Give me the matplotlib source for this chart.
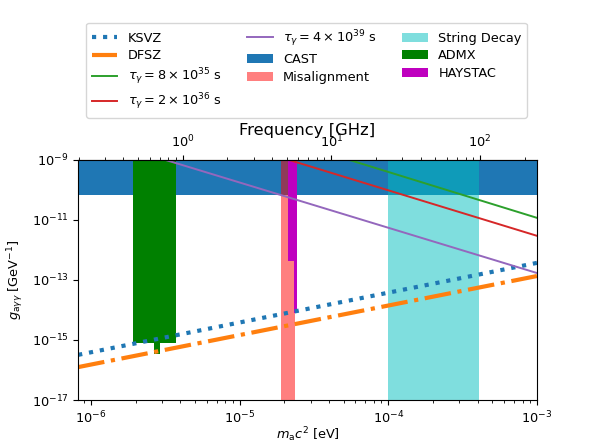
import numpy as np
import matplotlib.pyplot as plt
from matplotlib.ticker import LogLocator, NullLocator

plt.rcParams['font.size'] = 9.25

# axion mass range shown [eV]
m_lo, m_hi = 8.2e-7, 1e-3
g_lo, g_hi = 1e-17, 1e-9

# QCD axion bands (endpoints of straight lines in log-log)
ksvz_m = [8.2e-7, 1e-3]
ksvz_g = [3.2e-16, 3.7e-13]
dfsz_m = [8.2e-7, 1e-3]
dfsz_g = [1.25e-16, 1.35e-13]

# photon-decay lifetime contours
tau_labels = [r'$\tau_{\gamma} = 8 \times 10^{35}$ s',
              r'$\tau_{\gamma} = 2 \times 10^{36}$ s',
              r'$\tau_{\gamma} = 4 \times 10^{39}$ s']
tau_m = [[5.45e-5, 1e-3], [2.14e-5, 1e-3], [3.16e-6, 1e-3]]
tau_g = [[1e-9, 1.17e-11], [1e-9, 2.95e-12], [1e-9, 1.7e-13]]
tau_colors = ['C2', 'C3', 'C4']

# exclusion / target regions
cast_g = 6.6e-11
misalign_m = [1.89e-5, 2.34e-5]
string_m = [1e-4, 4.05e-4]
admx_m = [1.91e-6, 2.67e-6, 2.92e-6, 3.75e-6]
admx_g = [8.1e-16, 3.4e-16, 8.1e-16, 8.1e-16]
haystac_m = [2.1e-5, 2.33e-5, 2.45e-5]
haystac_g = [4.4e-13, 8e-15, 8e-15]

EV_TO_GHZ = 2.418e5


def ev2ghz(m):
    return m * EV_TO_GHZ


def ghz2ev(f):
    return f / EV_TO_GHZ


fig = plt.figure(figsize=(5.92, 4.44), dpi=100)
ax = fig.add_axes([0.132, 0.099, 0.775, 0.541])

ax.fill_between([m_lo, m_hi], cast_g, g_hi, color='C0', lw=0, label='CAST')
ax.fill_between(misalign_m, g_lo, g_hi, color='red', alpha=0.5, lw=0,
                label='Misalignment')
ax.fill_between(string_m, g_lo, g_hi, color='c', alpha=0.5, lw=0,
                label='String Decay')
ax.fill_between(admx_m, admx_g, g_hi, step='post', color='g', lw=0,
                label='ADMX')
ax.fill_between(haystac_m, haystac_g, g_hi, step='post', color='m', lw=0,
                label='HAYSTAC')

ax.plot(ksvz_m, ksvz_g, ':', color='C0', lw=3, label='KSVZ')
ax.plot(dfsz_m, dfsz_g, '-.', color='C1', lw=3, label='DFSZ')
for m, g, c, lab in zip(tau_m, tau_g, tau_colors, tau_labels):
    ax.plot(m, g, '-', color=c, lw=1.4, label=lab)

ax.set_xscale('log')
ax.set_yscale('log')
ax.set_xlim(m_lo, m_hi)
ax.set_ylim(g_lo, g_hi)
ax.set_yticks([1e-17, 1e-15, 1e-13, 1e-11, 1e-9])
ax.yaxis.set_minor_locator(NullLocator())
ax.set_xlabel(r'$m_{\mathrm{a}}c^2$ [eV]', labelpad=-1)
ax.set_ylabel(r'$g_{\mathrm{a}\gamma\gamma}$ [GeV$^{-1}$]')

top = ax.secondary_xaxis('top', functions=(ev2ghz, ghz2ev))
top.set_xlabel('Frequency [GHz]', fontsize=11.8, labelpad=-1)
top.xaxis.set_minor_locator(LogLocator(subs=np.arange(2, 10)))

handles, labels = ax.get_legend_handles_labels()
order = [5, 6, 7, 8, 9, 0, 1, 2, 3, 4]
fig.legend([handles[i] for i in order], [labels[i] for i in order],
           loc='upper center', bbox_to_anchor=(0.518, 0.963), ncol=3,
           labelspacing=0.35)

fig.savefig('out.png', dpi=100)
